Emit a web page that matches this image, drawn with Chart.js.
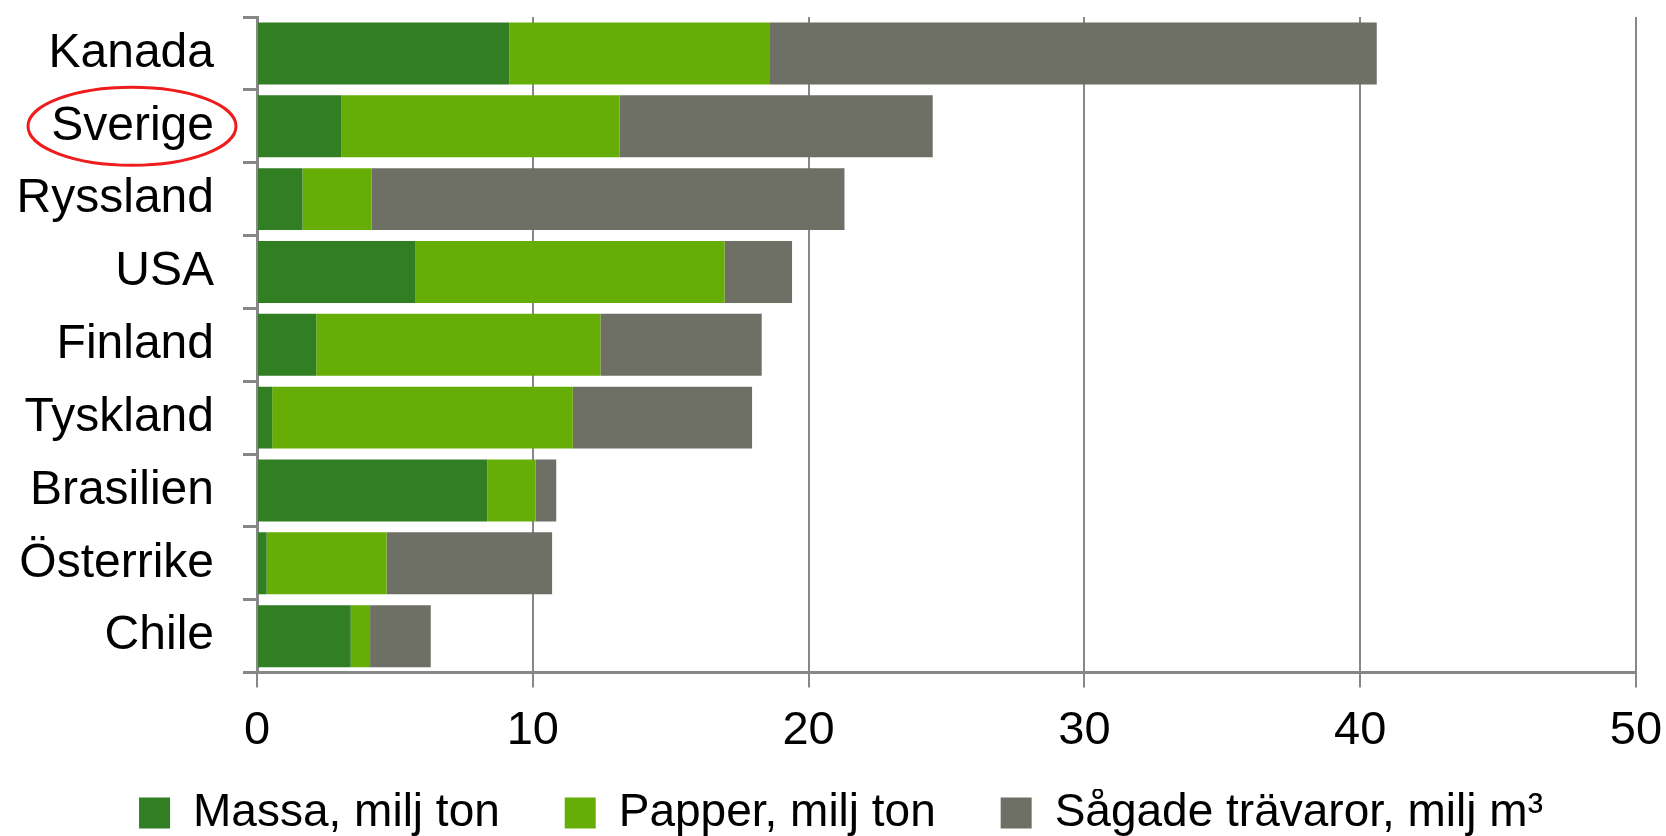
<!DOCTYPE html>
<html>
<head>
<meta charset="utf-8">
<script src="https://cdn.jsdelivr.net/npm/chart.js@4/dist/chart.umd.min.js"></script>
<style>
  body { margin: 0; background: #fff; }
</style>
</head>
<body>
<canvas id="exportChart" width="1666" height="836"></canvas>
<script>
const countries = ['Kanada', 'Sverige', 'Ryssland', 'USA', 'Finland', 'Tyskland', 'Brasilien', 'Österrike', 'Chile'];
const massa = [9.15, 3.05, 1.65, 5.75, 2.15, 0.55, 8.35, 0.35, 3.4];
const papper = [9.45, 10.1, 2.5, 11.2, 10.3, 10.9, 1.75, 4.35, 0.7];
const sagade = [22.0, 11.35, 17.15, 2.45, 5.85, 6.5, 0.75, 6.0, 2.2];
const xTicks = [0, 10, 20, 30, 40, 50];

const axisGray = '#878787';
const fontFamily = '"Liberation Sans", Arial, sans-serif';

// red ring around Sverige
Chart.register({
  id: 'ringLabel',
  afterDraw(chart) {
    const ctx = chart.ctx;
    const y = chart.scales.y.getPixelForValue(countries.indexOf('Sverige'));
    const x = chart.chartArea.left - 125;
    ctx.save();
    ctx.strokeStyle = '#ee1c1c';
    ctx.lineWidth = 3;
    ctx.beginPath();
    ctx.ellipse(x, y, 104, 39, 0, 0, Math.PI * 2);
    ctx.stroke();
    ctx.restore();
  }
});

const ctx = document.getElementById('exportChart').getContext('2d');

const exportChart = new Chart(ctx, {
  type: 'bar',
  data: {
    labels: countries,
    datasets: [
      {
        label: 'Massa, milj ton',
        data: massa,
        backgroundColor: '#317f22'
      },
      {
        label: 'Papper, milj ton',
        data: papper,
        backgroundColor: '#66ad05'
      },
      {
        label: 'Sågade trävaror, milj m³',
        data: sagade,
        backgroundColor: '#6e6f65'
      }
    ]
  },
  options: {
    indexAxis: 'y',
    responsive: false,
    animation: false,
    categoryPercentage: 1,
    barPercentage: 0.85,
    layout: {
      padding: { left: 16, top: 17, right: 0, bottom: -10 }
    },
    plugins: {
      tooltip: { enabled: false },
      legend: {
        display: true,
        position: 'bottom',
        labels: {
          boxWidth: 31,
          boxHeight: 31,
          padding: 1,
          color: '#000',
          font: { family: fontFamily, size: 46 },
          generateLabels(chart) {
            const items = Chart.defaults.plugins.legend.labels.generateLabels(chart);
            // extra room between entries, like the original
            items.forEach((item, i) => {
              if (i < items.length - 1) item.text += '     ';
            });
            return items;
          }
        }
      }
    },
    scales: {
      x: {
        stacked: true,
        min: 0,
        max: 50,
        afterBuildTicks(scale) {
          scale.ticks = xTicks.map(v => ({ value: v }));
        },
        afterFit(scale) {
          scale.paddingLeft = 0;
          scale.paddingRight = 30;
          scale.height += 15;
        },
        grid: {
          color: axisGray,
          lineWidth: 2,
          tickLength: 15,
          drawTicks: true
        },
        border: { display: true, color: axisGray, width: 3 },
        ticks: {
          color: '#000',
          padding: 15,
          maxRotation: 0,
          font: { family: fontFamily, size: 47 }
        }
      },
      y: {
        stacked: true,
        afterFit(scale) {
          scale.paddingTop = 0;
          scale.paddingBottom = 0;
          scale.width = 241;
        },
        grid: {
          display: true,
          drawOnChartArea: false,
          drawTicks: true,
          tickLength: 14,
          color: axisGray,
          lineWidth: 3
        },
        border: { display: true, color: axisGray, width: 3 },
        ticks: {
          color: '#000',
          padding: 29,
          font: { family: fontFamily, size: 48 }
        }
      }
    }
  }
});
</script>
</body>
</html>
